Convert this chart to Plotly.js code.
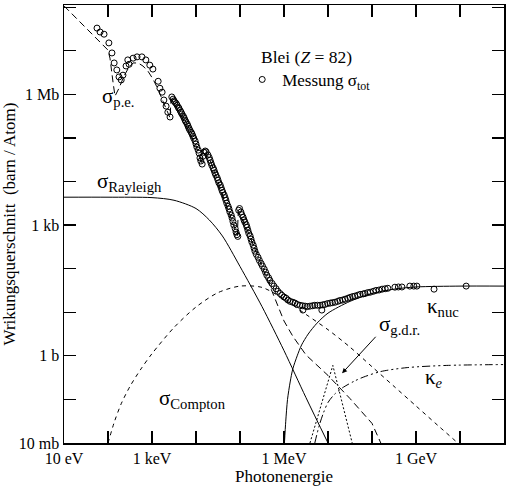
<!DOCTYPE html>
<html>
<head>
<meta charset="utf-8">
<script src="https://cdn.plot.ly/plotly-3.0.1.min.js"></script>
<style>html,body{margin:0;padding:0;background:#fff;}#chart{width:527px;height:495px;}</style>
</head>
<body>
<div id="chart"></div>
<script>
// ---- Data (log10 of photon energy in eV, log10 of cross section in barn) ----
const dataLogE = [1.75,1.82,1.91,2.02,2.09,2.14,2.2,2.25,2.3,2.34,2.41,2.45,2.48,2.57,2.66,2.77,2.86,2.95,3.02,3.14,3.18,3.23,3.27,3.32,3.36,3.41,3.45,3.48,3.5,3.52,3.55,3.57,3.6,3.61,3.64,3.66,3.68,3.71,3.73,3.75,3.77,3.8,3.82,3.84,3.86,3.89,3.91,3.93,3.95,3.98,4.0,4.02,4.05,4.07,4.09,4.11,4.14,4.16,4.18,4.21,4.23,4.27,4.3,4.32,4.34,4.36,4.39,4.41,4.43,4.45,4.48,4.5,4.52,4.55,4.57,4.59,4.61,4.64,4.66,4.68,4.7,4.73,4.75,4.77,4.8,4.82,4.84,4.86,4.89,4.91,4.93,4.95,4.97,4.99,5.02,5.04,5.07,5.09,5.11,5.14,5.16,5.18,5.2,5.23,5.25,5.27,5.3,5.32,5.34,5.37,5.41,5.44,5.48,5.51,5.55,5.58,5.61,5.65,5.68,5.73,5.77,5.82,5.86,5.91,5.95,6.0,6.05,6.09,6.14,6.2,6.25,6.3,6.36,6.42,6.43,6.48,6.53,6.59,6.65,6.7,6.76,6.82,6.86,6.88,6.93,6.99,7.05,7.1,7.16,7.22,7.27,7.33,7.39,7.45,7.5,7.56,7.61,7.67,7.73,7.8,7.84,7.9,7.96,8.03,8.09,8.16,8.23,8.3,8.36,8.52,8.6,8.68,8.86,8.95,9.02,9.41,10.14];
const dataLogSigma = [7.52,7.43,7.38,7.18,6.95,6.72,6.56,6.40,6.33,6.44,6.65,6.79,6.69,6.83,6.86,6.86,6.79,6.67,6.58,6.30,6.14,6.05,5.87,5.73,5.59,5.48,5.94,5.89,5.85,5.82,5.79,5.75,5.70,5.68,5.63,5.59,5.55,5.50,5.46,5.41,5.37,5.32,5.27,5.22,5.18,5.13,5.09,5.04,4.99,4.93,4.86,4.79,4.72,4.65,4.54,4.47,4.40,4.58,4.67,4.70,4.68,4.61,4.55,4.49,4.43,4.37,4.31,4.26,4.20,4.15,4.09,4.03,3.97,3.92,3.86,3.80,3.75,3.69,3.63,3.57,3.50,3.43,3.37,3.30,3.23,3.16,3.08,3.00,2.92,2.84,2.78,2.74,3.34,3.38,3.30,3.24,3.18,3.12,3.07,3.01,2.95,2.88,2.81,2.75,2.68,2.61,2.54,2.47,2.40,2.33,2.26,2.19,2.12,2.06,1.99,1.92,1.85,1.79,1.73,1.66,1.60,1.54,1.48,1.43,1.39,1.35,1.32,1.28,1.25,1.23,1.21,1.18,1.16,1.15,1.05,1.14,1.13,1.14,1.15,1.16,1.16,1.16,1.05,1.17,1.18,1.20,1.21,1.22,1.23,1.25,1.27,1.28,1.30,1.32,1.34,1.36,1.37,1.39,1.41,1.42,1.43,1.45,1.46,1.48,1.50,1.51,1.53,1.54,1.55,1.575,1.58,1.58,1.60,1.60,1.60,1.53,1.60];

const peLogE = [1.0,2.0,2.045,2.068,2.114,2.159,2.25,2.364,2.477,2.568,2.682,2.795,2.909,3.023,3.136,3.25,3.364,3.41,3.432,3.5,3.7,3.9,4.0,4.13,4.15,4.3,4.5,4.7,4.94,4.96,5.1,5.3,5.5,5.7,6.0,6.2,6.5,7.0,7.5,8.0,8.2];
const peLogSigma = [8.03,7.015,6.83,6.6,6.28,5.96,6.14,6.42,6.625,6.72,6.72,6.65,6.53,6.35,6.12,5.84,5.57,5.46,5.88,5.8,5.45,5.05,4.82,4.4,4.66,4.55,4.0,3.46,2.76,3.3,3.05,2.55,2.05,1.55,0.8,0.45,0.02,-0.45,-0.98,-1.55,-2.0];

const rayleighLogE = [1.0,2.0,3.0,3.5,4.0,4.3,4.6,5.0,5.5,6.0,6.5,7.0];
const rayleighLogSigma = [3.64,3.64,3.63,3.57,3.38,3.12,2.75,2.05,1.13,0.12,-0.96,-2.0];

const comptonLogE = [2.0,2.15,2.3,2.5,2.75,3.0,3.5,4.0,4.5,5.0,5.5,6.0,6.5,7.0,7.5,8.0,8.5,9.0,9.5,9.95];
const comptonLogSigma = [-2.0,-1.5,-1.1,-0.7,-0.3,0.05,0.65,1.12,1.45,1.6,1.57,1.3,0.95,0.6,0.2,-0.25,-0.7,-1.15,-1.6,-2.0];

const kNucLogE = [6.01,6.04,6.08,6.14,6.2,6.3,6.4,6.55,6.75,7.0,7.5,8.0,8.5,9.0,10.0,11.0];
const kNucLogSigma = [-2.0,-1.5,-1.0,-0.6,-0.3,0.0,0.25,0.5,0.75,0.98,1.25,1.43,1.53,1.58,1.6,1.6];

const kELogE = [6.7,6.8,6.9,7.0,7.15,7.35,7.6,7.8,8.2,8.8,9.7,11.0];
const kELogSigma = [-2.0,-1.6,-1.3,-1.07,-0.88,-0.72,-0.58,-0.49,-0.36,-0.27,-0.22,-0.2];

const gdrLogE = [6.59,7.11,7.55];
const gdrLogSigma = [-2.0,-0.22,-2.0];

const xLabelLog = [1,3,6,9,11];
const xLabelText = ['10 eV','1 keV','1 MeV','1 GeV','100 GeV'];
const yLabelLog = [-2,0,3,6];
const yLabelText = ['10 mb','1 b','1 kb','1 Mb'];
const xDecadeLog = [1,2,3,4,5,6,7,8,9,10,11];
const yDecadeLog = [-2,-1,0,1,2,3,4,5,6,7,8];

// ---- build ----
const p10 = a => a.map(v => Math.pow(10, v));
const FONT = 'Liberation Serif, Times New Roman, serif';

function curve(lx, ly, dash, shape) {
  return {x: p10(lx), y: p10(ly), mode: 'lines', type: 'scatter', showlegend: false,
    hoverinfo: 'skip', line: {color: '#000', width: 1, dash: dash, shape: shape || 'spline', smoothing: 0.8}};
}

const traces = [
  curve(peLogE, peLogSigma, '7px,4px', 'linear'),
  curve(rayleighLogE, rayleighLogSigma, 'solid'),
  curve(comptonLogE, comptonLogSigma, '4px,4px'),
  curve(kNucLogE, kNucLogSigma, 'solid'),
  curve(kELogE, kELogSigma, '8px,3px,2px,3px,2px,3px'),
  curve(gdrLogE, gdrLogSigma, '2px,2px', 'linear'),
  {x: p10(dataLogE), y: p10(dataLogSigma), mode: 'markers', type: 'scatter',
   name: 'Messung σ<sub>tot</sub>', showlegend: true,
   marker: {symbol: 'circle-open', size: 6, color: '#000', line: {width: 1, color: '#000'}}}
];

function axis(range, labelLog, labelText, decadeLog, title, standoff) {
  return {
    type: 'log', range: range, showline: true, linecolor: '#000', linewidth: 1.5, mirror: 'allticks',
    ticks: 'inside', ticklen: 12, tickwidth: 1.2, tickcolor: '#000', showgrid: false, zeroline: false,
    tickfont: {family: FONT, size: 16, color: '#000'}, tickmode: 'array',
    tickvals: p10(labelLog), ticktext: labelText,
    minor: {tickmode: 'array', tickvals: p10(decadeLog), ticks: 'inside', ticklen: 12, tickwidth: 1.2,
      tickcolor: '#000', showgrid: false},
    title: {text: title, font: {family: FONT, size: 17, color: '#000'}, standoff: standoff}
  };
}

function ann(xl, yl, text, size) {
  return {x: xl, y: yl, xref: 'x', yref: 'y', text: text, showarrow: false,
    xanchor: 'left', yanchor: 'middle', font: {family: FONT, size: size || 21, color: '#000'}};
}

const layout = {
  width: 527, height: 495,
  margin: {l: 64, r: 23, t: 5, b: 52},
  paper_bgcolor: '#fff', plot_bgcolor: '#fff',
  font: {family: FONT, color: '#000'},
  xaxis: axis([1, 11], xLabelLog, xLabelText, xDecadeLog, 'Photonenergie', 4),
  yaxis: axis([-2, 8.05], yLabelLog, yLabelText, yDecadeLog, 'Wrikungsquerschnitt  (barn / Atom)', 2),
  showlegend: true,
  legend: {x: 0.405, y: 0.829, xanchor: 'left', yanchor: 'middle', bgcolor: 'rgba(0,0,0,0)',
    font: {family: FONT, size: 17, color: '#000'}, itemwidth: 30, tracegroupgap: 0},
  annotations: [
    ann(1.82, 5.93, 'σ<sub>p.e.</sub>'),
    ann(1.71, 3.98, 'σ<sub>Rayleigh</sub>'),
    ann(3.12, -1.0, 'σ<sub>Compton</sub>'),
    ann(9.2, 1.12, 'κ<sub>nuc</sub>'),
    ann(9.16, -0.5, 'κ<sub><i>e</i></sub>'),
    ann(8.12, 0.7, 'σ<sub>g.d.r.</sub>'),
    ann(5.43, 6.85, 'Blei (<i>Z</i> = 82)', 17.5),
    {x: 7.32, y: -0.40, xref: 'x', yref: 'y', text: '', showarrow: true, ax: 35, ay: -38,
     arrowhead: 2, arrowsize: 1, arrowwidth: 1, arrowcolor: '#000', standoff: 0}
  ]
};

Plotly.newPlot('chart', traces, layout, {displayModeBar: false, staticPlot: true});
</script>
</body>
</html>
